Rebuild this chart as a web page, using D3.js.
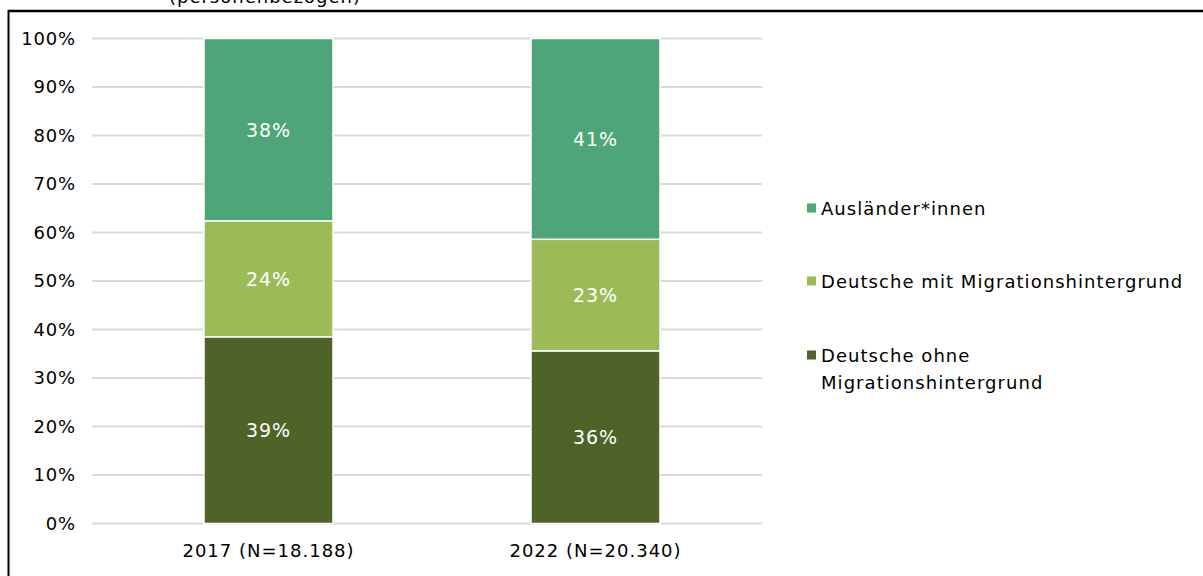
<!DOCTYPE html>
<html>
<head>
<meta charset="utf-8">
<script src="https://cdn.jsdelivr.net/npm/d3@7"></script>
<style>
  body { margin: 0; background: #fff; }
  svg { display: block; font-family: "DejaVu Sans", sans-serif; }
</style>
</head>
<body>
<svg width="1203" height="576"></svg>
<script>
// chart data
var years = ["2017 (N=18.188)", "2022 (N=20.340)"];
var groups = ["Deutsche ohne Migrationshintergrund", "Deutsche mit Migrationshintergrund", "Ausländer*innen"];
var ohne = [38.5, 35.6];
var mit = [23.9, 23.0];
var auslaender = [37.6, 41.4];
var barLabels = [["39%", "36%"], ["24%", "23%"], ["38%", "41%"]];
var yTicks = [0, 10, 20, 30, 40, 50, 60, 70, 80, 90, 100];

var colors = ["#4f6228", "#9bbb59", "#4ea577"];
var svg = d3.select("svg");

var rows = years.map(function(y, i) {
    return { year: y, ohne: ohne[i], mit: mit[i], aus: auslaender[i] };
});
var stack = d3.stack().keys(["ohne", "mit", "aus"])(rows);

var x = d3.scaleBand().domain(years).range([105, 759]).paddingInner(0.6055).paddingOuter(0.30275);
var y = d3.scaleLinear().domain([0, 100]).range([523.5, 38.5]);

// frame (title is cut off at the top in the original)
svg.append("text")
    .attr("x", 265)
    .attr("y", 3)
    .attr("text-anchor", "middle")
    .attr("font-size", "18px")
    .attr("letter-spacing", "1px")
    .text("(personenbezogen)");
svg.append("line")
    .attr("x1", 8).attr("x2", 1203).attr("y1", 11).attr("y2", 11)
    .attr("stroke", "#000").attr("stroke-width", 2.5);
svg.append("line")
    .attr("x1", 8.5).attr("x2", 8.5).attr("y1", 10).attr("y2", 576)
    .attr("stroke", "#000").attr("stroke-width", 2);

// grid
svg.append("g")
    .selectAll("line").data(yTicks).enter()
    .append("line")
    .attr("x1", 92).attr("x2", 762)
    .attr("y1", function(d) { return y(d); })
    .attr("y2", function(d) { return y(d); })
    .attr("stroke", "#d9d9d9")
    .attr("stroke-width", 2);

var yAxis = svg.append("g")
    .attr("transform", "translate(81, 0)")
    .call(d3.axisLeft(y).tickValues(yTicks).tickSize(0).tickPadding(5)
        .tickFormat(function(d) { return d + "%"; }));
yAxis.select(".domain").remove();
yAxis.selectAll("text").attr("font-size", "18px").attr("fill", "#000")
    .attr("letter-spacing", "0.8px")
    .attr("font-family", "'DejaVu Sans', sans-serif");

var xAxis = svg.append("g")
    .attr("transform", "translate(0, 523.5)")
    .call(d3.axisBottom(x).tickSize(0).tickPadding(21));
xAxis.select(".domain").remove();
xAxis.selectAll("text").attr("font-size", "18px").attr("fill", "#000")
    .attr("letter-spacing", "1px")
    .attr("font-family", "'DejaVu Sans', sans-serif");

// bars
stack.forEach(function(layer, k) {
    var g = svg.append("g");
    g.selectAll("rect").data(layer).enter()
        .append("rect")
        .attr("x", function(d) { return x(d.data.year); })
        .attr("width", x.bandwidth())
        .attr("y", function(d) { return y(d[1]); })
        .attr("height", function(d) { return y(d[0]) - y(d[1]); })
        .attr("fill", colors[k])
        .attr("stroke", "#fff")
        .attr("stroke-width", 1.5);
    g.selectAll("text").data(layer).enter()
        .append("text")
        .attr("x", function(d) { return x(d.data.year) + x.bandwidth() / 2; })
        .attr("y", function(d) { return (y(d[0]) + y(d[1])) / 2 + 7; })
        .attr("text-anchor", "middle")
        .attr("font-size", "19px")
        .attr("letter-spacing", "1px")
        .attr("fill", "#fff")
        .text(function(d, i) { return barLabels[k][i]; });
});

// legend
var legendY = [355, 281, 208];
groups.forEach(function(name, k) {
    svg.append("rect")
        .attr("x", 807).attr("y", legendY[k] - 4.5)
        .attr("width", 9).attr("height", 9)
        .attr("fill", colors[k]);
    var t = svg.append("text")
        .attr("x", 821).attr("y", legendY[k] + 6.5)
        .attr("font-size", "18px")
        .attr("letter-spacing", "1.05px")
        .attr("fill", "#000");
    if (k === 0) {
        t.append("tspan").attr("x", 821).text("Deutsche ohne");
        t.append("tspan").attr("x", 821).attr("dy", 27).text("Migrationshintergrund");
    } else {
        t.text(name);
    }
});
</script>
</body>
</html>
